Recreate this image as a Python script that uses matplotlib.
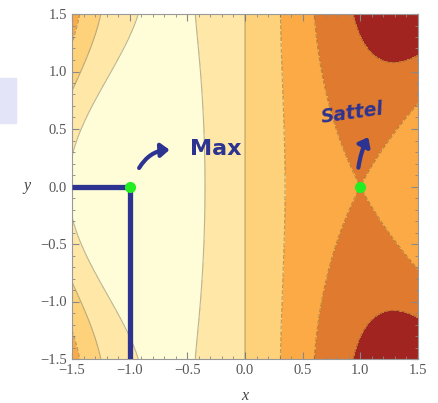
import matplotlib.pyplot as plt
import numpy as np
from matplotlib.ticker import MultipleLocator, FuncFormatter
from matplotlib.patches import FancyArrowPatch, Rectangle

# surface f(x,y) = x^3 - 3x - x^2 * (a*y^2 - b*y^4)
coef_a = 0.82
coef_b = 0.1375
x_range = [-1.5, 1.5]
y_range = [-1.5, 1.5]

levels = [-10, -3, -2, -1, 0, 1, 10]
colors = ["#a22420", "#e07a2e", "#fbaa46", "#fdd27b", "#fee7a7", "#fffdd7"]

max_pt = (-1.0, 0.0)
saddle_pt = (1.0, 0.0)
ticks = [-1.5, -1.0, -0.5, 0.0, 0.5, 1.0, 1.5]

navy = "#2d3391"

fig = plt.figure(figsize=(4.38, 4.03), dpi=100)
ax = fig.add_axes([72/438, 44/403, 346/438, 345/403])

xs = np.linspace(x_range[0], x_range[1], 301)
ys = np.linspace(y_range[0], y_range[1], 301)
X, Y = np.meshgrid(xs, ys)
Z = X**3 - 3*X - X**2*(coef_a*Y**2 - coef_b*Y**4)

ax.contourf(X, Y, Z, levels=levels, colors=colors)
ax.contour(X, Y, Z, levels=levels[1:-1], colors="#6b5a3a", linewidths=0.8, alpha=0.45)

# hand drawn annotations
ax.plot([x_range[0], max_pt[0]], [0, 0], color=navy, lw=3.8, solid_capstyle="butt", zorder=5)
ax.plot([max_pt[0], max_pt[0]], [0, y_range[0]], color=navy, lw=3.8, solid_capstyle="butt", zorder=5)
ax.plot(*max_pt, marker="o", color="#22ee22", ms=7, zorder=6, clip_on=False)
ax.plot(*saddle_pt, marker="o", color="#22ee22", ms=7, zorder=6, clip_on=False)

arr1 = FancyArrowPatch((-0.93, 0.14), (-0.63, 0.32), connectionstyle="arc3,rad=-0.3",
                       arrowstyle="-|>,head_length=5,head_width=4", color=navy, lw=3, zorder=6)
ax.add_patch(arr1)
ax.text(-0.25, 0.33, "Max", color=navy, fontsize=16, fontweight="heavy",
        ha="center", va="center", zorder=6)
arr2 = FancyArrowPatch((0.98, 0.14), (1.08, 0.45), connectionstyle="arc3,rad=-0.1",
                       arrowstyle="-|>,head_length=5,head_width=4", color=navy, lw=3, zorder=6)
ax.add_patch(arr2)
ax.text(0.93, 0.64, "Sattel", color=navy, fontsize=13.5, fontweight="heavy", style="italic",
        ha="center", va="center", rotation=8, zorder=6)

ax.set_xlim(x_range)
ax.set_ylim(y_range)
ax.set_xticks(ticks)
ax.set_yticks(ticks)
ax.xaxis.set_minor_locator(MultipleLocator(0.1))
ax.yaxis.set_minor_locator(MultipleLocator(0.1))
fmt = FuncFormatter(lambda v, p: ("%.1f" % v).replace("-", "\u2212"))
ax.xaxis.set_major_formatter(fmt)
ax.yaxis.set_major_formatter(fmt)
ax.tick_params(which="both", direction="in", top=True, right=True, color="#888888",
               labelsize=10.5, labelcolor="#555555")
ax.tick_params(which="major", length=5)
ax.tick_params(which="minor", length=2.5)
for lab in ax.get_xticklabels() + ax.get_yticklabels():
    lab.set_family("Liberation Serif")
for s in ax.spines.values():
    s.set_color("#999999")

ax.set_xlabel("x", fontfamily="Liberation Serif", style="italic", fontsize=11.5, color="#444444", labelpad=8)
ax.set_ylabel("y", fontfamily="Liberation Serif", style="italic", fontsize=11.5, color="#444444",
              rotation=0, labelpad=10, va="center")

# lavender box at left edge (from the screenshot)
fig.patches.append(Rectangle((0, 1 - 123/403), 16/438, 45/403, transform=fig.transFigure,
                             color="#e4e4f8", zorder=0))

fig.savefig("out.png", dpi=100)
